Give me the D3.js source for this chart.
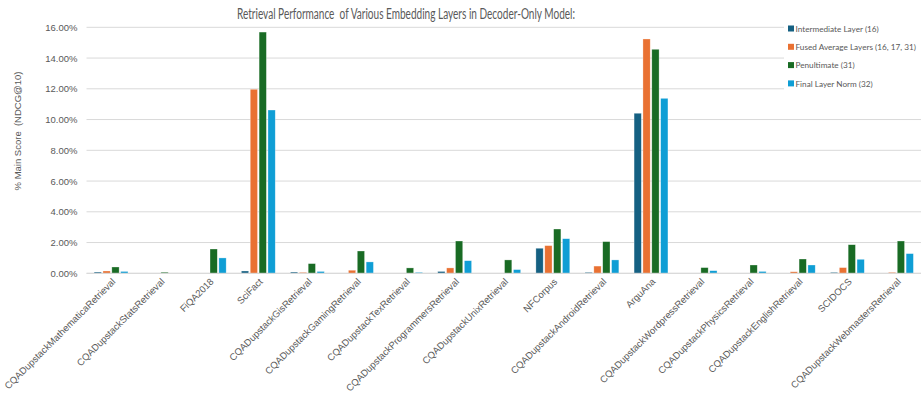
<!DOCTYPE html>
<html>
<head>
<meta charset="utf-8">
<script src="https://cdn.jsdelivr.net/npm/d3@7/dist/d3.min.js"></script>
<style>
  html, body { margin: 0; padding: 0; background: #fff; }
  svg { display: block; font-family: "Liberation Sans", "DejaVu Sans", sans-serif; }
</style>
</head>
<body>
<svg id="chart" width="924" height="394"></svg>
<script>
// Datasets (x axis)
const categories = [
  "CQADupstackMathematicaRetrieval", "CQADupstackStatsRetrieval", "FiQA2018", "SciFact",
  "CQADupstackGisRetrieval", "CQADupstackGamingRetrieval", "CQADupstackTexRetrieval",
  "CQADupstackProgrammersRetrieval", "CQADupstackUnixRetrieval", "NFCorpus",
  "CQADupstackAndroidRetrieval", "ArguAna", "CQADupstackWordpressRetrieval",
  "CQADupstackPhysicsRetrieval", "CQADupstackEnglishRetrieval", "SCIDOCS",
  "CQADupstackWebmastersRetrieval"
];

// Series names and NDCG@10 scores (%)
const seriesNames = [
  "Intermediate Layer (16)",
  "Fused Average Layers (16, 17, 31)",
  "Penultimate (31)",
  "Final Layer Norm (32)"
];
const intermediate = [0.08, 0.00, 0.00, 0.15, 0.08, 0.00, 0.00, 0.12, 0.00, 1.63, 0.06, 10.41, 0.00, 0.00, 0.00, 0.06, 0.00];
const fusedAverage = [0.15, 0.00, 0.00, 11.97, 0.06, 0.20, 0.00, 0.35, 0.00, 1.80, 0.47, 15.24, 0.00, 0.00, 0.10, 0.37, 0.06];
const penultimate  = [0.41, 0.07, 1.58, 15.69, 0.63, 1.45, 0.35, 2.10, 0.87, 2.88, 2.06, 14.57, 0.37, 0.54, 0.93, 1.86, 2.10];
const finalNorm    = [0.12, 0.00, 1.00, 10.62, 0.12, 0.74, 0.06, 0.82, 0.24, 2.25, 0.87, 11.38, 0.17, 0.12, 0.54, 0.91, 1.28];

// Y axis ticks (%)
const yTicks = [0, 2, 4, 6, 8, 10, 12, 14, 16];

const colors = ["#156082", "#E97132", "#196B24", "#0F9ED5"];
const seriesValues = [intermediate, fusedAverage, penultimate, finalNorm];

const svg = d3.select("#chart");
const margin = { left: 86.5, right: 3, top: 27.3, bottom: 120.7 };
const W = 924, H = 394;
const narrow = 'Lato, "Liberation Sans", sans-serif';

// Squeeze a text element to a target width
function fitWidth(sel, width) {
  sel.each(function () {
    if (this.getComputedTextLength() > width) {
      d3.select(this).attr("textLength", width).attr("lengthAdjust", "spacingAndGlyphs");
    }
  });
}

const x = d3.scaleBand()
  .domain(categories)
  .range([margin.left, W - margin.right])
  .paddingInner(0.31)
  .paddingOuter(0.155);

const xInner = d3.scaleBand()
  .domain(d3.range(seriesNames.length))
  .range([0, x.bandwidth()])
  .paddingInner(0.18);

const y = d3.scaleLinear()
  .domain([0, 16])
  .range([H - margin.bottom, margin.top]);

// Gridlines
svg.append("g")
  .selectAll("line")
  .data(yTicks)
  .join("line")
  .attr("x1", margin.left)
  .attr("x2", W - margin.right)
  .attr("y1", d => y(d))
  .attr("y2", d => y(d))
  .attr("stroke", "#d9d9d9")
  .attr("stroke-width", 1);

// Y axis labels
const yAxis = d3.axisLeft(y)
  .tickValues(yTicks)
  .tickFormat(d => d.toFixed(2) + "%")
  .tickSize(0)
  .tickPadding(9);
svg.append("g")
  .attr("transform", `translate(${margin.left},0)`)
  .call(yAxis)
  .call(g => g.select(".domain").remove())
  .call(g => g.selectAll("text")
    .attr("fill", "#595959")
    .attr("font-family", "Liberation Sans, sans-serif")
    .attr("font-size", "9.5px"));

// Bars
const groups = svg.append("g")
  .selectAll("g")
  .data(categories)
  .join("g")
  .attr("transform", d => `translate(${x(d)},0)`);

groups.selectAll("rect")
  .data((d, i) => seriesValues.map((vals, s) => ({ s, v: vals[i] })))
  .join("rect")
  .attr("x", d => xInner(d.s))
  .attr("width", xInner.bandwidth())
  .attr("y", d => y(d.v))
  .attr("height", d => y(0) - y(d.v))
  .attr("fill", d => colors[d.s])
  .attr("stroke", "#ffffff")
  .attr("stroke-opacity", 0.5)
  .attr("stroke-width", 0.6);

// X axis baseline
svg.append("line")
  .attr("x1", margin.left)
  .attr("x2", W - margin.right)
  .attr("y1", y(0))
  .attr("y2", y(0))
  .attr("stroke", "#d9d9d9");

// X axis labels rotated 45°
const xAxis = d3.axisBottom(x).tickSize(0).tickPadding(0);
svg.append("g")
  .attr("transform", `translate(0,${y(0)})`)
  .call(xAxis)
  .call(g => g.select(".domain").remove())
  .call(g => g.selectAll("text")
    .attr("fill", "#595959")
    .attr("font-family", "Liberation Sans, sans-serif")
    .attr("font-size", "9.5px")
    .attr("text-anchor", "end")
    .attr("dy", "0")
    .attr("transform", "translate(5,9) rotate(-45)"));

// Title
svg.append("text")
  .attr("x", 406)
  .attr("y", 18.5)
  .attr("text-anchor", "middle")
  .attr("fill", "#595959")
  .attr("font-family", narrow)
  .attr("font-size", "14.5px")
  .style("white-space", "pre")
  .text("Retrieval Performance  of Various Embedding Layers in Decoder-Only Model:")
  .call(fitWidth, 338);

// Y axis title
svg.append("text")
  .attr("transform", "translate(21,131) rotate(-90)")
  .attr("text-anchor", "middle")
  .attr("fill", "#595959")
  .attr("font-size", "9.5px")
  .style("white-space", "pre")
  .text("% Main Score  (NDCG@10)");

// Legend with white backing over the plot area
const legend = svg.append("g").attr("transform", "translate(784,18)");
legend.append("rect")
  .attr("x", 0).attr("y", 0)
  .attr("width", 140).attr("height", 76)
  .attr("fill", "#ffffff");
const items = legend.selectAll("g.item")
  .data(seriesNames)
  .join("g")
  .attr("class", "item")
  .attr("transform", (d, i) => `translate(4,${11 + i * 18.3})`);
items.append("rect")
  .attr("x", 0).attr("y", -3.5)
  .attr("width", 6).attr("height", 6)
  .attr("fill", (d, i) => colors[i]);
items.append("text")
  .attr("x", 7.5)
  .attr("y", 0)
  .attr("dy", "0.35em")
  .attr("fill", "#595959")
  .attr("font-family", narrow)
  .attr("font-size", "8.2px")
  .text(d => d);
</script>
</body>
</html>
